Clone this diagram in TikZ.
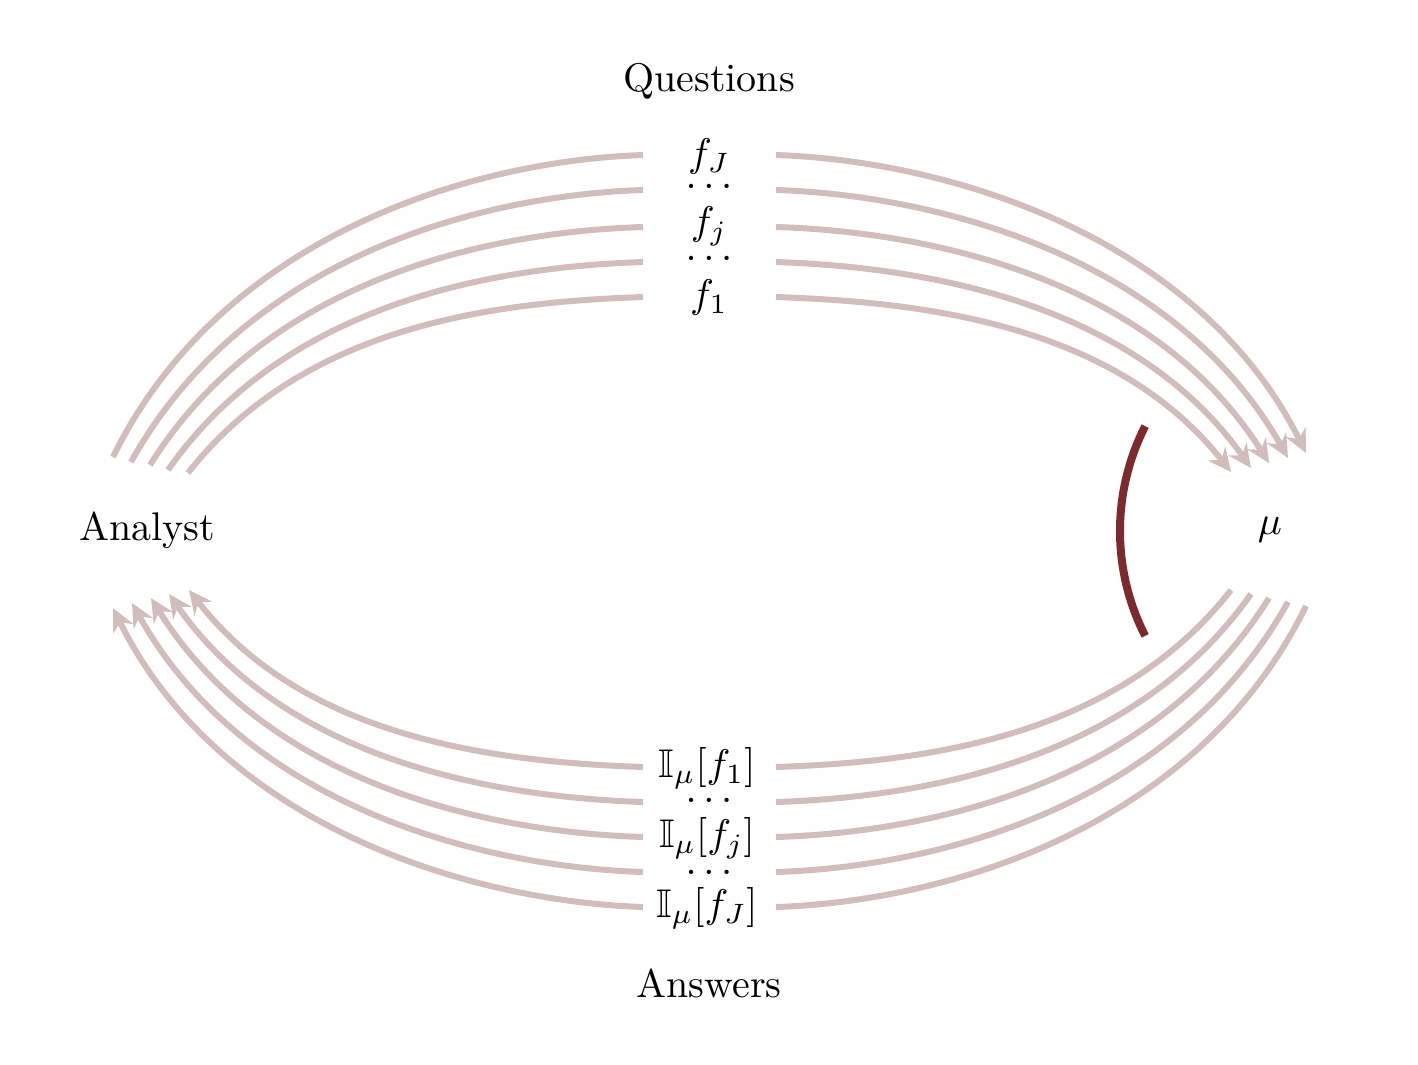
\documentclass[tikz,border=0pt]{standalone}
\usepackage{amssymb}
\usetikzlibrary{arrows.meta}
\definecolor{lightred}{HTML}{D2BDBD}
\definecolor{darkred}{HTML}{7B2A2E}
\begin{document}
\begin{tikzpicture}[x=0.25pt,y=-0.25pt,
  flow/.style={draw=lightred,line width=1.5pt},
  flowarr/.style={flow,-{Stealth[length=5.8pt,width=5.5pt,inset=1.9pt]}},
  darc/.style={draw=darkred,line width=2pt},
  lbl/.style={inner sep=0pt,anchor=center}]
\useasboundingbox (0,0) rectangle (1418,1064);
% labels
\node[lbl] (analyst) at (147,530) {Analyst};
\node[lbl] (mu) at (1270,530) {$\mu$};
\node[lbl] (questions) at (709,81) {Questions};
\node[lbl] (answers) at (709,983) {Answers};
\node[lbl] (fJ) at (709,156) {$f_J$};
\node[lbl] (qd2) at (709,186) {$\dots$};
\node[lbl] (fj) at (709,226) {$f_j$};
\node[lbl] (qd1) at (709,258) {$\dots$};
\node[lbl] (f1) at (709,297) {$f_1$};
\node[lbl] (a1) at (707,768) {$\mathbb{I}_\mu[f_1]$};
\node[lbl] (ad1) at (709,800) {$\dots$};
\node[lbl] (aj) at (707,838) {$\mathbb{I}_\mu[f_j]$};
\node[lbl] (ad2) at (709,872) {$\dots$};
\node[lbl] (aJ) at (707,908) {$\mathbb{I}_\mu[f_J]$};
% line end points
\coordinate (s1) at (188,473); \coordinate (s2) at (168,470); \coordinate (s3) at (150,465);
\coordinate (s4) at (131,462); \coordinate (s5) at (113,457);
\coordinate (ql1) at (643,297); \coordinate (ql2) at (643,262); \coordinate (ql3) at (643,227);
\coordinate (ql4) at (643,190); \coordinate (ql5) at (643,155);
\coordinate (qr1) at (776,297); \coordinate (qr2) at (776,262); \coordinate (qr3) at (776,227);
\coordinate (qr4) at (776,190); \coordinate (qr5) at (776,155);
\coordinate (t1) at (1231,472); \coordinate (t2) at (1251,468); \coordinate (t3) at (1269,463);
\coordinate (t4) at (1288,458); \coordinate (t5) at (1306,453);
\coordinate (m1) at (1231,590); \coordinate (m2) at (1251,594); \coordinate (m3) at (1269,598);
\coordinate (m4) at (1288,602); \coordinate (m5) at (1306,606);
\coordinate (ar1) at (776,767); \coordinate (ar2) at (776,802); \coordinate (ar3) at (776,837);
\coordinate (ar4) at (776,872); \coordinate (ar5) at (776,907);
\coordinate (al1) at (643,767); \coordinate (al2) at (643,802); \coordinate (al3) at (643,837);
\coordinate (al4) at (643,872); \coordinate (al5) at (643,907);
\coordinate (b1) at (189,590); \coordinate (b2) at (169,594); \coordinate (b3) at (151,598);
\coordinate (b4) at (132,603); \coordinate (b5) at (113,608);
% top left
\draw[flow] (s1) .. controls (305.0,323.3) and (499,302) .. (ql1);
\draw[flow] (s2) .. controls (283.9,304.5) and (490,267) .. (ql2);
\draw[flow] (s3) .. controls (263.9,282.7) and (481,232) .. (ql3);
\draw[flow] (s4) .. controls (241.5,262.6) and (472,195.5) .. (ql4);
\draw[flow] (s5) .. controls (218.2,241.3) and (463,161) .. (ql5);
% top right
\draw[flowarr] (qr1) .. controls (920,302) and (1114,323.3) .. (t1);
\draw[flowarr] (qr2) .. controls (929,267) and (1135.1,304.5) .. (t2);
\draw[flowarr] (qr3) .. controls (938,232) and (1155.1,282.7) .. (t3);
\draw[flowarr] (qr4) .. controls (947,195.5) and (1177.5,262.6) .. (t4);
\draw[flowarr] (qr5) .. controls (956,161) and (1200.8,241.3) .. (t5);
% bottom right
\draw[flow] (m1) .. controls (1114,739.7) and (920,762) .. (ar1);
\draw[flow] (m2) .. controls (1135.1,758.5) and (929,797) .. (ar2);
\draw[flow] (m3) .. controls (1155.1,780.3) and (938,832) .. (ar3);
\draw[flow] (m4) .. controls (1177.5,800.4) and (947,866.5) .. (ar4);
\draw[flow] (m5) .. controls (1200.8,821.7) and (956,901) .. (ar5);
% bottom left
\draw[flowarr] (al1) .. controls (499,762) and (305,739.7) .. (b1);
\draw[flowarr] (al2) .. controls (490,797) and (283.9,758.5) .. (b2);
\draw[flowarr] (al3) .. controls (481,832) and (263.9,780.3) .. (b3);
\draw[flowarr] (al4) .. controls (472,866.5) and (241.5,800.4) .. (b4);
\draw[flowarr] (al5) .. controls (463,901) and (218.2,821.7) .. (b5);
% dark arc
\coordinate (arcC) at (1351,531);
\draw[darc] (arcC) ++(153:231) arc[start angle=153,end angle=180,radius=231];
\draw[darc] (arcC) ++(180:231) arc[start angle=180,end angle=207,radius=231];
\end{tikzpicture}
\end{document}
